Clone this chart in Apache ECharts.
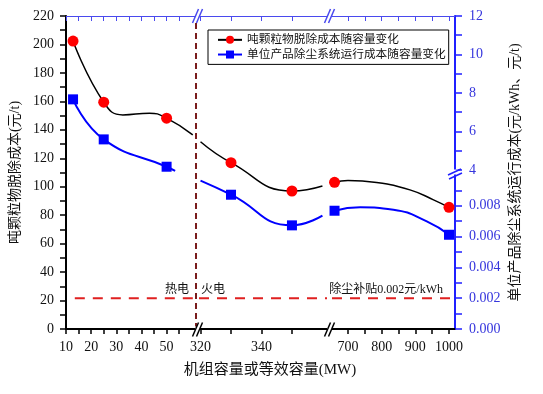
<!DOCTYPE html>
<html><head><meta charset="utf-8">
<script src="https://cdn.jsdelivr.net/npm/echarts@6/dist/echarts.min.js"></script>
<style>html,body{margin:0;padding:0;background:#fff}#c{width:543px;height:394px}</style>
</head><body><div id="c"></div>
<script>
// ---------------- data ----------------
const heatCapacity   = [12.8, 25, 50];              // MW (热电)
const heatCostPerTon = [202.4, 159.4, 148.2];       // 元/t, left axis
const heatOpCost     = [7.67, 5.59, 4.17];          // 元/t, right axis (upper part)
const fireCapacity   = [330, 350, 660, 1000];       // MW (火电)
const fireCostPerTon = [116.9, 97.0, 103.1, 85.5];  // 元/t, left axis
const fireOpCost     = [0.00872, 0.00673, 0.00768, 0.00612]; // 元/kWh, right axis (lower part)

// curve-shape points (no markers)
const heatCostTrace = [[32.6, 150.5], [43.2, 151.7], [60.4, 136.4]];
const heatOpTrace   = [[53.4, 3.96]];
const fireCostTrace = [[320, 131.6], [360, 100.5], [700, 104.4], [785, 103.0], [884, 97.8], [954, 90.8]];
const fireOpTrace   = [[320, 0.00963], [360, 0.00736], [736, 0.0079], [835, 0.00775], [934, 0.00699]];

const subsidy = 0.002;   // 元/kWh

const xTicksA = [10, 15, 20, 25, 30, 35, 40, 45, 50, 55];
const xLabelsA = [10, 20, 30, 40, 50];
const xTicksB = [320, 330, 340, 350];
const xLabelsB = [320, 340];
const xTicksC = [700, 750, 800, 850, 900, 950, 1000];
const xLabelsC = [700, 800, 900, 1000];
const yLeftTicks = [0,10,20,30,40,50,60,70,80,90,100,110,120,130,140,150,160,170,180,190,200,210,220];
const yLeftLabels = [0,20,40,60,80,100,120,140,160,180,200,220];
const yLowTicks = [0,0.001,0.002,0.003,0.004,0.005,0.006,0.007,0.008,0.009];
const yLowLabels = [0,0.002,0.004,0.006,0.008];
const yHighTicks = [4,5,6,7,8,9,10,11,12];
const yHighLabels = [4,6,8,10,12];

const NAME_A = '吨颗粒物脱除成本随容量变化';
const NAME_B = '单位产品除尘系统运行成本随容量变化';

// ---------------- layout ----------------
const TOP = 16, H = 313;
const segs = [
  {left: 66,  width: 130, min: 10,     max: 61.69},
  {left: 199, width: 128, min: 319.5,  max: 361.5},
  {left: 332, width: 123, min: 652.48, max: 1017.8}
];
const leftRange = [0, 220];
const lowRange = [0, 0.020325];
const highRange = [-4.26, 12];

const serif = '"Liberation Serif","Noto Sans CJK SC"';
const BLUE = '#2020ff', LBLUE = '#3535dd';

function build(xs, ys, trace, lo, hi) {
  const pts = xs.map((x, i) => ({value: [x, ys[i]]}))
    .concat(trace.map(p => ({value: p, symbol: 'none'})));
  return pts.filter(p => p.value[0] >= lo && p.value[0] <= hi)
            .sort((a, b) => a.value[0] - b.value[0]);
}

const grid = segs.map(s => ({left: s.left, top: TOP, width: s.width, height: H, outerBoundsMode: 'none'}));

const xAxis = [];
const ticks = [[xTicksA, xLabelsA], [xTicksB, xLabelsB], [xTicksC, xLabelsC]];
segs.forEach((s, i) => {
  xAxis.push({type: 'value', gridIndex: i, position: 'bottom', min: s.min, max: s.max,
    splitLine: {show: false},
    axisLine: {onZero: false, lineStyle: {color: '#000', width: 2}},
    axisTick: {customValues: ticks[i][0], length: 5, lineStyle: {color: '#000', width: 1.5}},
    axisLabel: {customValues: ticks[i][1], margin: 11, fontFamily: serif, fontSize: 14, color: '#111',
      formatter: v => String(v)}});
  xAxis.push({type: 'value', gridIndex: i, position: 'top', min: s.min, max: s.max,
    splitLine: {show: false},
    axisLine: {onZero: false, lineStyle: {color: '#4a4aee', width: 1.2}},
    axisTick: {inside: true, customValues: ticks[i][0], length: 5, lineStyle: {color: '#4a4aee'}},
    axisLabel: {show: false}});
});

const hidden = (gi, r, pos) => ({type: 'value', gridIndex: gi, position: pos, min: r[0], max: r[1], show: false,
  splitLine: {show: false}, axisLine: {onZero: false}});
const yAxis = [
  // 0 grid0 left
  {type: 'value', gridIndex: 0, position: 'left', min: 0, max: 220,
   name: '吨颗粒物脱除成本(元/t)', nameLocation: 'middle', nameGap: 44,
   nameTextStyle: {fontFamily: serif, fontSize: 14, color: '#111'},
   splitLine: {show: false},
   axisLine: {show: true, onZero: false, lineStyle: {color: '#000', width: 2}},
   axisTick: {show: true, customValues: yLeftTicks, length: 6, lineStyle: {color: '#000', width: 1.5}},
   axisLabel: {customValues: yLeftLabels, margin: 12, fontFamily: serif, fontSize: 14, color: '#111'}},
  // 1 grid0 upper right (元/t)
  hidden(0, highRange, 'right'),
  // 2 grid1 left
  hidden(1, leftRange, 'left'),
  // 3 grid1 lower right
  hidden(1, lowRange, 'right'),
  // 4 grid2 left
  hidden(2, leftRange, 'left'),
  // 5 grid2 lower right (visible)
  {type: 'value', gridIndex: 2, position: 'right', min: lowRange[0], max: lowRange[1],
   name: '单位产品除尘系统运行成本(元/kWh、元/t)', nameLocation: 'middle', nameGap: 53,
   nameTextStyle: {fontFamily: serif, fontSize: 14, color: '#111'},
   splitLine: {show: false},
   axisLine: {show: true, onZero: false, lineStyle: {color: BLUE, width: 2}},
   axisTick: {show: true, customValues: yLowTicks, length: 7, lineStyle: {color: BLUE, width: 1.5}},
   axisLabel: {customValues: yLowLabels, margin: 14, fontFamily: serif, fontSize: 14, color: LBLUE,
     formatter: v => v.toFixed(3)}},
  // 6 grid2 upper right (visible labels)
  {type: 'value', gridIndex: 2, position: 'right', min: highRange[0], max: highRange[1],
   splitLine: {show: false},
   axisLine: {show: false, onZero: false},
   axisTick: {show: true, customValues: yHighTicks, length: 7, lineStyle: {color: BLUE, width: 1.5}},
   axisLabel: {customValues: yHighLabels, margin: 14, fontFamily: serif, fontSize: 14, color: LBLUE}},
  // 7 grid0 lower right
  hidden(0, lowRange, 'right')
];

const blackStyle = {type: 'line', smooth: 0.5, symbol: 'circle', symbolSize: 11,
  lineStyle: {color: '#000', width: 1.5}, itemStyle: {color: '#ff0000'}, z: 3};
const blueStyle = {type: 'line', smooth: 0.5, symbol: 'rect', symbolSize: 10,
  lineStyle: {color: '#0000ff', width: 2}, itemStyle: {color: '#0000ff'}, z: 3};
const dashStyle = {type: 'line', symbol: 'none', silent: true,
  lineStyle: {color: '#e02020', width: 2, type: [10, 8]}, z: 2};

const series = [
  Object.assign({name: NAME_A, xAxisIndex: 0, yAxisIndex: 0,
    data: build(heatCapacity, heatCostPerTon, heatCostTrace, segs[0].min, segs[0].max),
    markLine: {symbol: 'none', silent: true, label: {show: false},
      lineStyle: {color: '#7a1c1c', type: [6, 4], width: 2},
      data: [{xAxis: segs[0].max - 0.1}]}}, blackStyle),
  Object.assign({name: NAME_B, xAxisIndex: 0, yAxisIndex: 1,
    data: build(heatCapacity, heatOpCost, heatOpTrace, segs[0].min, segs[0].max)}, blueStyle),
  Object.assign({name: NAME_A, xAxisIndex: 2, yAxisIndex: 2,
    data: build(fireCapacity, fireCostPerTon, fireCostTrace, segs[1].min, segs[1].max)}, blackStyle),
  Object.assign({name: NAME_B, xAxisIndex: 2, yAxisIndex: 3,
    data: build(fireCapacity, fireOpCost, fireOpTrace, segs[1].min, segs[1].max)}, blueStyle),
  Object.assign({name: NAME_A, xAxisIndex: 4, yAxisIndex: 4,
    data: build(fireCapacity, fireCostPerTon, fireCostTrace, segs[2].min, segs[2].max)}, blackStyle),
  Object.assign({name: NAME_B, xAxisIndex: 4, yAxisIndex: 5,
    data: build(fireCapacity, fireOpCost, fireOpTrace, segs[2].min, segs[2].max)}, blueStyle),
  Object.assign({name: 'sub0', xAxisIndex: 0, yAxisIndex: 7,
    data: [[13.5, subsidy], [segs[0].max, subsidy]]}, dashStyle),
  Object.assign({name: 'sub1', xAxisIndex: 2, yAxisIndex: 3,
    data: [[segs[1].min, subsidy], [segs[1].max, subsidy]]}, dashStyle),
  Object.assign({name: 'sub2', xAxisIndex: 4, yAxisIndex: 5,
    data: [[segs[2].min, subsidy], [segs[2].max, subsidy]]}, dashStyle)
];

function brk(cx, cy, color, horiz) {
  // decorative axis-break mark "//"
  const els = [];
  if (horiz) {
    els.push({type: 'rect', shape: {x: cx - 3, y: cy - 2.5, width: 6, height: 5}, style: {fill: '#fff'}, z: 50});
    els.push({type: 'line', shape: {x1: cx - 7, y1: cy + 3, x2: cx + 6, y2: cy - 3}, style: {stroke: color, lineWidth: 1.5}, z: 51});
    els.push({type: 'line', shape: {x1: cx - 6, y1: cy + 7, x2: cx + 7, y2: cy + 1}, style: {stroke: color, lineWidth: 1.5}, z: 51});
  } else {
    els.push({type: 'rect', shape: {x: cx - 2.5, y: cy - 3, width: 5, height: 6}, style: {fill: '#fff'}, z: 50});
    els.push({type: 'line', shape: {x1: cx - 5, y1: cy + 7, x2: cx + 1, y2: cy - 7}, style: {stroke: color, lineWidth: 1.5}, z: 51});
    els.push({type: 'line', shape: {x1: cx - 1, y1: cy + 7, x2: cx + 5, y2: cy - 7}, style: {stroke: color, lineWidth: 1.5}, z: 51});
  }
  return els;
}

const graphic = [].concat(
  brk(197.5, 329.5, '#000', false),
  brk(329.5, 329.5, '#000', false),
  brk(197.5, 16, '#4a4aee', false),
  brk(329.5, 16, '#4a4aee', false),
  brk(455, 172, BLUE, true),
  [
    {type: 'text', x: 270, y: 370, z: 60, style: {text: '机组容量或等效容量(MW)', font: '15px ' + serif, fill: '#111', align: 'center', verticalAlign: 'middle'}},
    {type: 'text', x: 177, y: 290, z: 60, style: {text: '热电', font: '12px ' + serif, fill: '#111', align: 'center', verticalAlign: 'middle'}},
    {type: 'text', x: 213, y: 290, z: 60, style: {text: '火电', font: '12px ' + serif, fill: '#111', align: 'center', verticalAlign: 'middle'}},
    {type: 'text', x: 443, y: 290, z: 60, style: {text: '除尘补贴0.002元/kWh', font: '12px ' + serif, fill: '#111', align: 'right', verticalAlign: 'middle'}}
  ]
);

const chart = echarts.init(document.getElementById('c'), null, {renderer: 'canvas'});
chart.setOption({
  animation: false,
  backgroundColor: '#fff',
  grid, xAxis, yAxis, series, graphic,
  legend: {
    data: [NAME_A, NAME_B], orient: 'vertical', left: 208, top: 30,
    padding: [4, 3, 4, 9], itemGap: 3, itemWidth: 24, itemHeight: 10,
    borderColor: '#000', borderWidth: 1, backgroundColor: '#fff',
    textStyle: {fontFamily: serif, fontSize: 11.7, color: '#111'}
  }
});
</script></body></html>
